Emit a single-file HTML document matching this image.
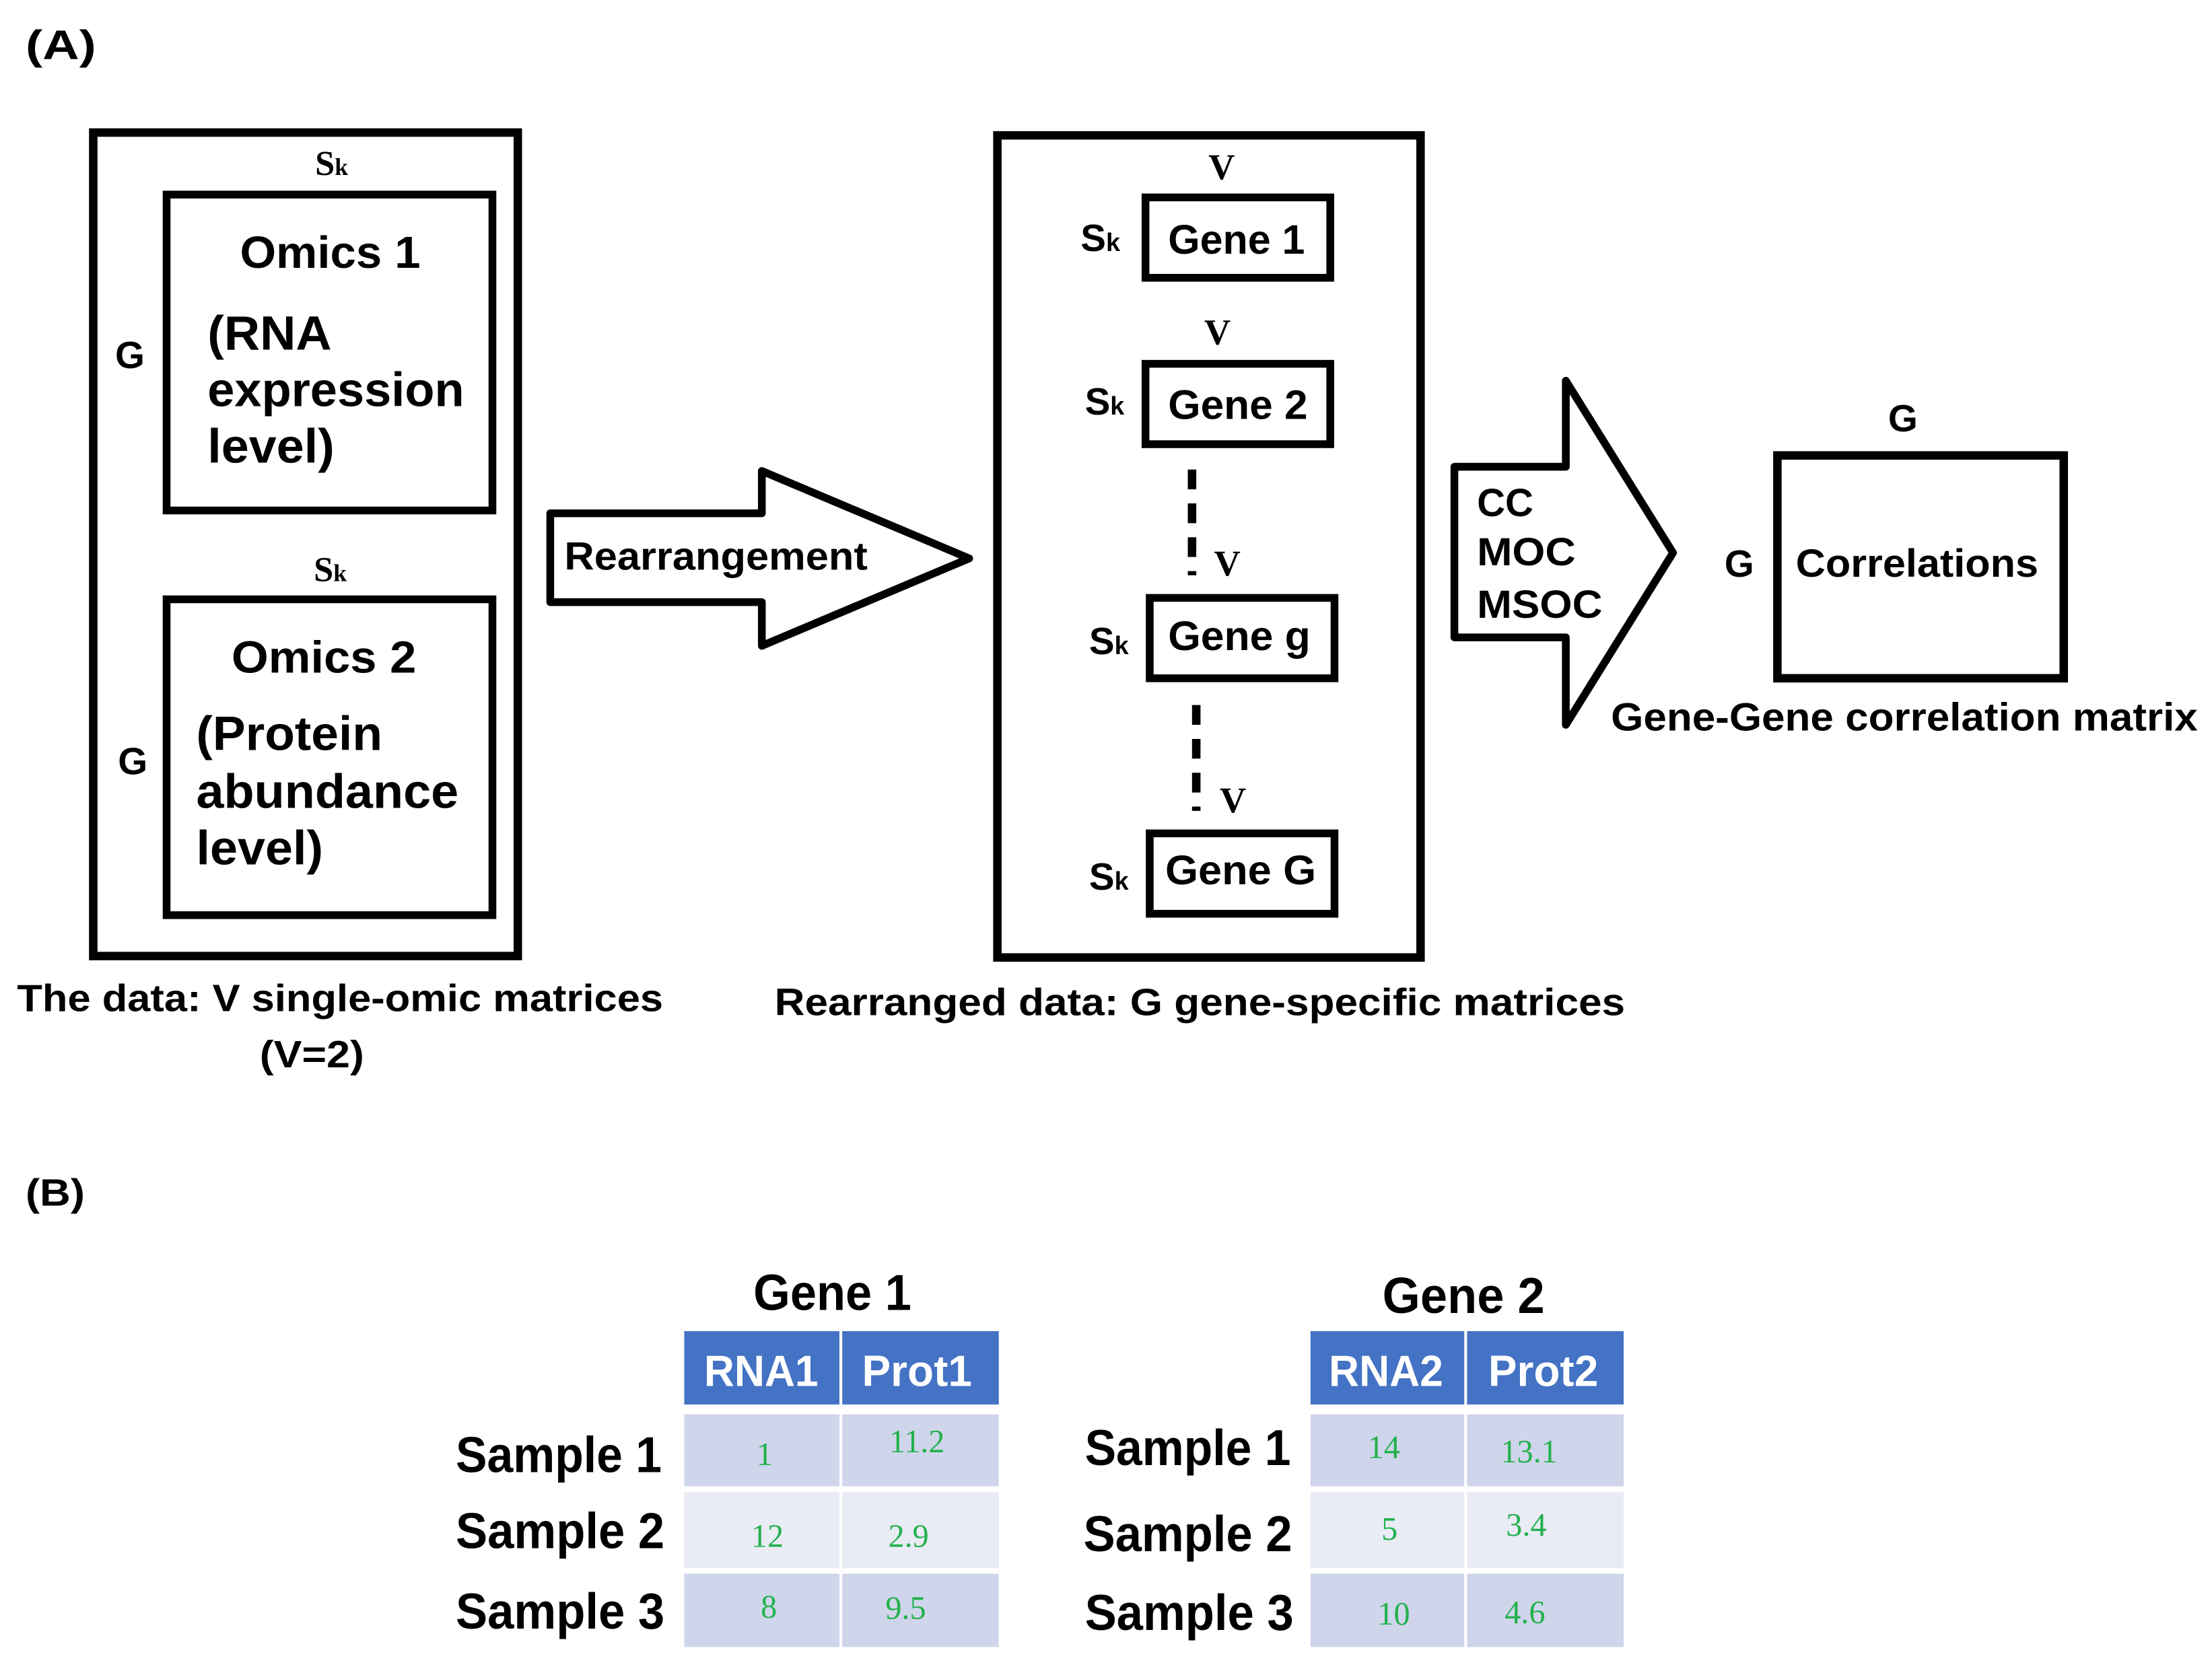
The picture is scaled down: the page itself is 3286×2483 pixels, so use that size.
<!DOCTYPE html>
<html><head><meta charset="utf-8"><style>
html,body{margin:0;padding:0;background:#fff;}
svg{display:block;}
.b{font-family:"Liberation Sans",sans-serif;font-weight:bold;fill:#000;}
.s{font-family:"Liberation Serif",serif;font-weight:bold;fill:#000;}
.g{font-family:"Liberation Serif",serif;fill:#22b14c;font-size:23px;text-anchor:middle;}
.h{font-family:"Liberation Sans",sans-serif;font-weight:bold;fill:#fff;font-size:31px;}
</style></head><body>
<svg width="3286" height="2483" viewBox="0 0 1568 1185" xmlns="http://www.w3.org/2000/svg">
<rect width="1568" height="1185" fill="#fff"/>
<g fill="none" stroke="#000">
<rect x="66" y="94" width="301" height="584" stroke-width="6"/>
<rect x="118" y="138" width="231" height="224" stroke-width="5.5"/>
<rect x="118" y="425" width="231" height="224" stroke-width="5.5"/>
<polygon points="390,364 540,364 540,334 687,396 540,458 540,427 390,427" stroke-width="5.5" stroke-linejoin="round"/>
<rect x="707" y="96" width="300" height="583" stroke-width="6"/>
<rect x="812" y="140" width="131" height="57" stroke-width="5.5"/>
<rect x="812" y="258" width="131" height="57" stroke-width="5.5"/>
<rect x="815" y="424" width="131" height="57" stroke-width="5.5"/>
<rect x="815" y="591" width="131" height="57" stroke-width="5.5"/>
<line x1="845" y1="333" x2="845" y2="408" stroke-width="6" stroke-dasharray="14,10"/>
<line x1="848" y1="500" x2="848" y2="575" stroke-width="6" stroke-dasharray="14,10"/>
<polygon points="1031,331 1110,331 1110,270 1186,392 1110,514 1110,452 1031,452" stroke-width="5.5" stroke-linejoin="round"/>
<rect x="1260" y="323" width="203" height="158" stroke-width="6"/>
</g>
<text class="b" x="18" y="42" font-size="29" textLength="50" lengthAdjust="spacingAndGlyphs">(A)</text>
<text class="s" x="235" y="124" font-size="25" text-anchor="middle">S<tspan font-size="17">k</tspan></text>
<text class="b" x="170" y="190" font-size="32" textLength="128" lengthAdjust="spacingAndGlyphs">Omics 1</text>
<text class="b" x="147" y="248" font-size="34" textLength="88" lengthAdjust="spacingAndGlyphs">(RNA</text>
<text class="b" x="147" y="288" font-size="34" textLength="182" lengthAdjust="spacingAndGlyphs">expression</text>
<text class="b" x="147" y="328" font-size="34" textLength="90" lengthAdjust="spacingAndGlyphs">level)</text>
<text class="b" x="92" y="261" font-size="27" text-anchor="middle">G</text>
<text class="s" x="234" y="412" font-size="25" text-anchor="middle">S<tspan font-size="17">k</tspan></text>
<text class="b" x="164" y="477" font-size="32" textLength="131" lengthAdjust="spacingAndGlyphs">Omics 2</text>
<text class="b" x="139" y="532" font-size="34" textLength="132" lengthAdjust="spacingAndGlyphs">(Protein</text>
<text class="b" x="139" y="573" font-size="34" textLength="186" lengthAdjust="spacingAndGlyphs">abundance</text>
<text class="b" x="139" y="613" font-size="34" textLength="90" lengthAdjust="spacingAndGlyphs">level)</text>
<text class="b" x="94" y="549" font-size="27" text-anchor="middle">G</text>
<text class="b" x="12" y="717" font-size="27" textLength="458" lengthAdjust="spacingAndGlyphs">The data: V single-omic matrices</text>
<text class="b" x="184" y="757" font-size="27" textLength="74" lengthAdjust="spacingAndGlyphs">(V=2)</text>
<text class="b" x="400" y="404" font-size="28" textLength="215" lengthAdjust="spacingAndGlyphs">Rearrangement</text>
<text class="s" x="866" y="127" font-size="26" text-anchor="middle">V</text>
<text class="b" x="766" y="178" font-size="27">S<tspan font-size="18">k</tspan></text>
<text class="b" x="828" y="180" font-size="29" textLength="97" lengthAdjust="spacingAndGlyphs">Gene 1</text>
<text class="s" x="863" y="244" font-size="26" text-anchor="middle">V</text>
<text class="b" x="769" y="294" font-size="27">S<tspan font-size="18">k</tspan></text>
<text class="b" x="828" y="297" font-size="29" textLength="99" lengthAdjust="spacingAndGlyphs">Gene 2</text>
<text class="s" x="870" y="408" font-size="26" text-anchor="middle">V</text>
<text class="b" x="772" y="464" font-size="27">S<tspan font-size="18">k</tspan></text>
<text class="b" x="828" y="461" font-size="29" textLength="101" lengthAdjust="spacingAndGlyphs">Gene g</text>
<text class="s" x="874" y="576" font-size="26" text-anchor="middle">V</text>
<text class="b" x="772" y="631" font-size="27">S<tspan font-size="18">k</tspan></text>
<text class="b" x="826" y="627" font-size="29" textLength="107" lengthAdjust="spacingAndGlyphs">Gene G</text>
<text class="b" x="549" y="720" font-size="27" textLength="603" lengthAdjust="spacingAndGlyphs">Rearranged data: G gene-specific matrices</text>
<text class="b" x="1047" y="366" font-size="28" textLength="40" lengthAdjust="spacingAndGlyphs">CC</text>
<text class="b" x="1047" y="401" font-size="28" textLength="70" lengthAdjust="spacingAndGlyphs">MOC</text>
<text class="b" x="1047" y="438" font-size="28" textLength="89" lengthAdjust="spacingAndGlyphs">MSOC</text>
<text class="b" x="1349" y="306" font-size="27" text-anchor="middle">G</text>
<text class="b" x="1233" y="409" font-size="27" text-anchor="middle">G</text>
<text class="b" x="1273" y="409" font-size="28" textLength="172" lengthAdjust="spacingAndGlyphs">Correlations</text>
<text class="b" x="1142" y="518" font-size="28" textLength="416" lengthAdjust="spacingAndGlyphs">Gene-Gene correlation matrix</text>
<text class="b" x="18" y="855" font-size="27" textLength="42" lengthAdjust="spacingAndGlyphs">(B)</text>
<g>
<rect x="485" y="944" width="110" height="52" fill="#4472c4"/><rect x="597" y="944" width="111" height="52" fill="#4472c4"/>
<rect x="485" y="1003" width="110" height="51" fill="#cfd5ea"/><rect x="597" y="1003" width="111" height="51" fill="#cfd5ea"/>
<rect x="485" y="1058" width="110" height="54" fill="#e9ebf5"/><rect x="597" y="1058" width="111" height="54" fill="#e9ebf5"/>
<rect x="485" y="1116" width="110" height="52" fill="#cfd5ea"/><rect x="597" y="1116" width="111" height="52" fill="#cfd5ea"/>
<rect x="929" y="944" width="109" height="52" fill="#4472c4"/><rect x="1040" y="944" width="111" height="52" fill="#4472c4"/>
<rect x="929" y="1003" width="109" height="51" fill="#cfd5ea"/><rect x="1040" y="1003" width="111" height="51" fill="#cfd5ea"/>
<rect x="929" y="1058" width="109" height="54" fill="#e9ebf5"/><rect x="1040" y="1058" width="111" height="54" fill="#e9ebf5"/>
<rect x="929" y="1116" width="109" height="52" fill="#cfd5ea"/><rect x="1040" y="1116" width="111" height="52" fill="#cfd5ea"/>
</g>
<text class="b" x="534" y="929" font-size="36" textLength="112" lengthAdjust="spacingAndGlyphs">Gene 1</text>
<text class="b" x="980" y="931" font-size="36" textLength="115" lengthAdjust="spacingAndGlyphs">Gene 2</text>
<text class="h" x="499" y="983" textLength="81" lengthAdjust="spacingAndGlyphs">RNA1</text>
<text class="h" x="611" y="983" textLength="78" lengthAdjust="spacingAndGlyphs">Prot1</text>
<text class="h" x="942" y="983" textLength="81" lengthAdjust="spacingAndGlyphs">RNA2</text>
<text class="h" x="1055" y="983" textLength="78" lengthAdjust="spacingAndGlyphs">Prot2</text>
<text class="b" x="323" y="1044" font-size="36" textLength="146" lengthAdjust="spacingAndGlyphs">Sample 1</text>
<text class="b" x="323" y="1098" font-size="36" textLength="148" lengthAdjust="spacingAndGlyphs">Sample 2</text>
<text class="b" x="323" y="1155" font-size="36" textLength="148" lengthAdjust="spacingAndGlyphs">Sample 3</text>
<text class="b" x="769" y="1039" font-size="36" textLength="146" lengthAdjust="spacingAndGlyphs">Sample 1</text>
<text class="b" x="768" y="1100" font-size="36" textLength="148" lengthAdjust="spacingAndGlyphs">Sample 2</text>
<text class="b" x="769" y="1156" font-size="36" textLength="148" lengthAdjust="spacingAndGlyphs">Sample 3</text>
<text class="g" x="542" y="1039">1</text>
<text class="g" x="650" y="1030">11.2</text>
<text class="g" x="544" y="1097">12</text>
<text class="g" x="644" y="1097">2.9</text>
<text class="g" x="545" y="1147">8</text>
<text class="g" x="642" y="1148">9.5</text>
<text class="g" x="981" y="1034">14</text>
<text class="g" x="1084" y="1037">13.1</text>
<text class="g" x="985" y="1092">5</text>
<text class="g" x="1082" y="1089">3.4</text>
<text class="g" x="988" y="1152">10</text>
<text class="g" x="1081" y="1151">4.6</text>
</svg>
</body></html>
